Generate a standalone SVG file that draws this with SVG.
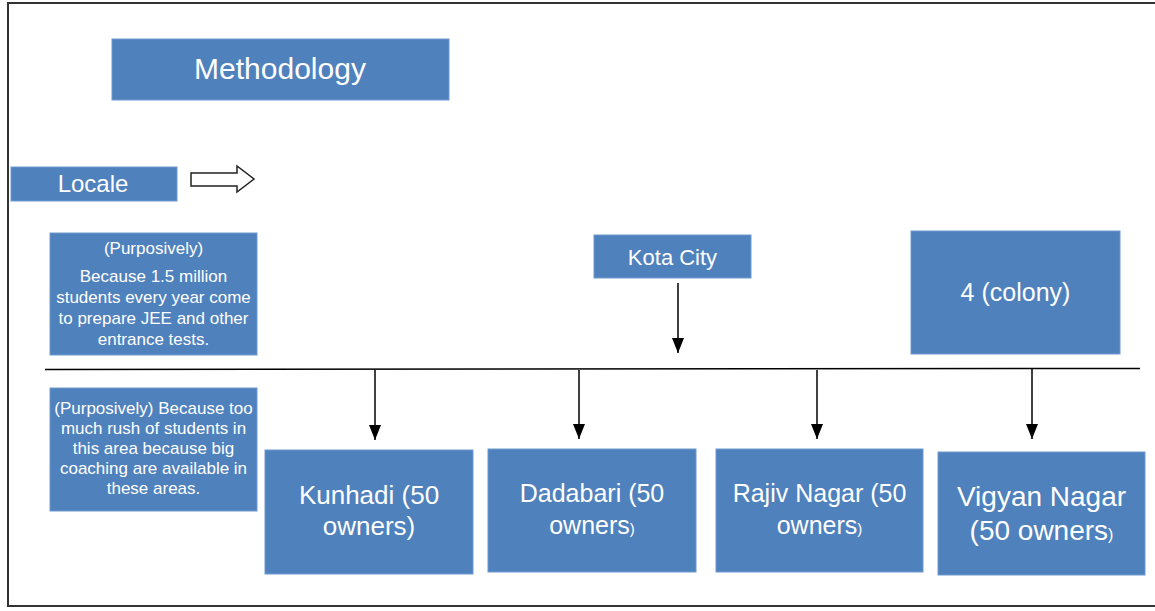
<svg xmlns="http://www.w3.org/2000/svg" width="1155" height="611" viewBox="0 0 1155 611">
<defs>
<style>
.box{fill:#4F81BD;stroke:#6F9AD0;stroke-width:1}
.t{fill:#ffffff;font-family:"Liberation Sans",Arial,sans-serif;text-anchor:middle}
.s{font-size:17px}
.line{stroke:#000;stroke-width:1.5;fill:none}
</style>
<marker id="ah" markerWidth="15" markerHeight="12" refX="15" refY="6" orient="auto" markerUnits="userSpaceOnUse" viewBox="0 0 15 12">
<path d="M0,0 L15,6 L0,12 Z" fill="#000"/>
</marker>
</defs>
<rect width="1155" height="611" fill="#fff"/>
<g id="frame">
<path d="M1155,3 L8,3 L8,606 L1155,606" fill="none" stroke="#333" stroke-width="2"/>
</g>
<g id="methodology">
<rect class="box" x="112" y="39" width="337" height="61"/>
<text class="t" x="280" y="79" font-size="30">Methodology</text>
</g>
<g id="locale">
<rect class="box" x="11" y="167" width="166" height="34"/>
<text class="t" x="93" y="192" font-size="24">Locale</text>
</g>
<g id="hollow-arrow">
<path d="M191,173 L237,173 L237,166 L254,179 L237,192 L237,186 L191,186 Z" fill="#fff" stroke="#222" stroke-width="1.5"/>
</g>
<g id="reason1">
<rect class="box" x="50" y="233" width="207" height="122"/>
<text class="t s" x="153.5" y="254">(Purposively)</text>
<text class="t s" x="153.5" y="282">Because 1.5 million</text>
<text class="t s" x="153.5" y="303">students every year come</text>
<text class="t s" x="153.5" y="324">to prepare JEE and other</text>
<text class="t s" x="153.5" y="345">entrance tests.</text>
</g>
<g id="reason2">
<rect class="box" x="50" y="388" width="207" height="123"/>
<text class="t s" x="153.5" y="414">(Purposively) Because too</text>
<text class="t s" x="153.5" y="434">much rush of students in</text>
<text class="t s" x="153.5" y="454">this area because big</text>
<text class="t s" x="153.5" y="474">coaching are available in</text>
<text class="t s" x="153.5" y="494">these areas.</text>
</g>
<g id="kota-city">
<rect class="box" x="594" y="235" width="157" height="43"/>
<text class="t" x="672.5" y="265" font-size="22">Kota City</text>
</g>
<g id="colony">
<rect class="box" x="911" y="231" width="209" height="123"/>
<text class="t" x="1015.5" y="301" font-size="25">4 (colony)</text>
</g>
<g id="kunhadi">
<rect class="box" x="265" y="450" width="208" height="124"/>
<text class="t" x="369" y="504" font-size="26">Kunhadi (50</text>
<text class="t" x="369" y="535" font-size="26">owners)</text>
</g>
<g id="dadabari">
<rect class="box" x="488" y="449" width="208" height="123"/>
<text class="t" x="592" y="502" font-size="25">Dadabari (50</text>
<text class="t" x="592" y="534" font-size="25">owners<tspan font-size="15">)</tspan></text>
</g>
<g id="rajiv-nagar">
<rect class="box" x="716" y="449" width="207" height="123"/>
<text class="t" x="819.5" y="502" font-size="25">Rajiv Nagar (50</text>
<text class="t" x="819.5" y="534" font-size="25">owners<tspan font-size="15">)</tspan></text>
</g>
<g id="vigyan-nagar">
<rect class="box" x="938" y="452" width="207" height="123"/>
<text class="t" x="1041.5" y="506" font-size="28">Vigyan Nagar</text>
<text class="t" x="1041.5" y="540" font-size="28">(50 owners<tspan font-size="16">)</tspan></text>
</g>
<g id="connectors">
<line class="line" x1="678" y1="283" x2="678" y2="353" marker-end="url(#ah)"/>
<line class="line" x1="45" y1="369.5" x2="1140" y2="368.5"/>
<line class="line" x1="375" y1="370" x2="375" y2="440" marker-end="url(#ah)"/>
<line class="line" x1="579" y1="370" x2="579" y2="439" marker-end="url(#ah)"/>
<line class="line" x1="817" y1="370" x2="817" y2="439" marker-end="url(#ah)"/>
<line class="line" x1="1032" y1="369" x2="1032" y2="439" marker-end="url(#ah)"/>
</g>
</svg>
